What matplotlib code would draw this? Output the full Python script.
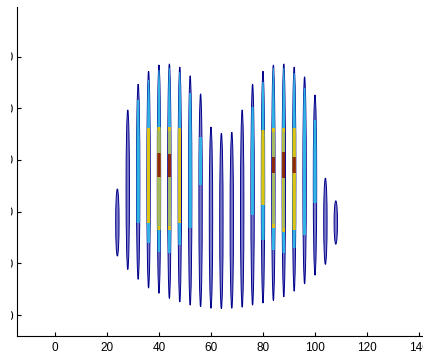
import numpy as np
import matplotlib
matplotlib.use("Agg")
import matplotlib.pyplot as plt
from matplotlib.patches import Ellipse, Rectangle
from matplotlib.transforms import Bbox

plt.rcParams['font.family'] = ['Liberation Sans', 'DejaVu Sans']

# column positions
xs = [24, 28, 32, 36, 40, 44, 48, 52, 56, 60, 64,
      68, 72, 76, 80, 84, 88, 92, 96, 100, 104, 108]
# vertical extent of every column
top = [24.4, 39.7, 44.7, 47.2, 48.4, 48.6, 48.0, 46.3, 42.8, 36.4, 35.2,
       35.4, 39.7, 44.7, 47.2, 48.4, 48.6, 48.0, 46.1, 42.6, 26.5, 22.1]
bottom = [11.4, 8.8, 6.9, 5.2, 4.2, 3.2, 2.5, 1.9, 1.6, 1.3, 1.2,
          1.3, 1.5, 1.9, 2.3, 2.8, 3.5, 4.6, 6.0, 7.7, 9.8, 13.7]
nan = np.nan
# cyan level
cyan_lo = [nan, nan, 17.8, 13.9, 12.2, 12.0, 13.5, 16.8, 25.2, nan, nan,
           nan, nan, 19.4, 14.5, 12.6, 12.0, 13.0, 15.5, 21.7, nan, nan]
cyan_hi = [nan, nan, 41.6, 45.5, 47.4, 47.8, 47.0, 43.0, 34.4, nan, nan,
           nan, nan, 40.3, 45.1, 47.8, 47.8, 46.8, 43.9, 37.7, nan, nan]
# yellow level
yel_lo = [nan, nan, nan, 17.8, 16.5, 16.5, 17.8, nan, nan, nan, nan,
          nan, nan, nan, 21.3, 16.8, 16.1, 16.5, nan, nan, nan, nan]
yel_hi = [nan, nan, nan, 36.2, 36.4, 36.4, 36.2, nan, nan, nan, nan,
          nan, nan, nan, 35.8, 36.2, 36.2, 36.2, nan, nan, nan, nan]
green_cols = [40, 44, 84, 88]
# red level
red_lo = [nan, nan, nan, nan, 26.7, 26.7, nan, nan, nan, nan, nan,
          nan, nan, nan, nan, 27.5, 26.5, 27.5, nan, nan, nan, nan]
red_hi = [nan, nan, nan, nan, 31.4, 31.2, nan, nan, nan, nan, nan,
          nan, nan, nan, nan, 30.6, 31.5, 30.6, nan, nan, nan, nan]

xticks = [0, 20, 40, 60, 80, 100, 120, 140]
yticks = [0, 10, 20, 30, 40, 50]

fig = plt.figure(figsize=(4.23, 3.53), dpi=100)
ax = fig.add_axes([17 / 423, 17 / 353, 428 / 423, 329 / 353])

w = 1.3
for i, x in enumerate(xs):
    cy = (top[i] + bottom[i]) / 2
    ell = Ellipse((x, cy), w, top[i] - bottom[i], facecolor='#7c7cc8',
                  edgecolor='#00008c', lw=0.7, zorder=2)
    ax.add_patch(ell)
    bands = [(cyan_lo[i], cyan_hi[i], '#30b4e6', 1.0)]
    bands.append((yel_lo[i], yel_hi[i], '#dcc410', 1.0))
    if x in green_cols:
        bands.append((yel_lo[i] + 0.8, yel_hi[i] - 0.8, '#a2ba62', 0.75))
    bands.append((red_lo[i], red_hi[i], '#8e2a0a', 1.0))
    for lo, hi, col, f in bands:
        if np.isnan(lo):
            continue
        r = Rectangle((x - w * f / 2, lo), w * f, hi - lo, facecolor=col,
                      edgecolor='none', zorder=3)
        ax.add_patch(r)
        r.set_clip_path(ell)

ax.set_xlim(-14.6, 150)
ax.set_ylim(-4.06, 59.6)
ax.set_xticks(xticks)
ax.set_yticks(yticks)
ax.spines['top'].set_visible(False)
ax.spines['right'].set_visible(False)
for s in ['left', 'bottom']:
    ax.spines[s].set_linewidth(0.8)
ax.tick_params(direction='in', length=2.6, width=0.8, labelsize=8.5)
ax.tick_params(axis='x', pad=4)
ax.tick_params(axis='y', pad=2.5)

# the y labels are cut off at the left border
clip = Bbox.from_extents(10.5, 0, 423, 353)
for t in ax.yaxis.get_major_ticks():
    t.label1.set_clip_on(True)
    t.label1.set_clip_box(clip)

fig.savefig('out.png', dpi=100)
